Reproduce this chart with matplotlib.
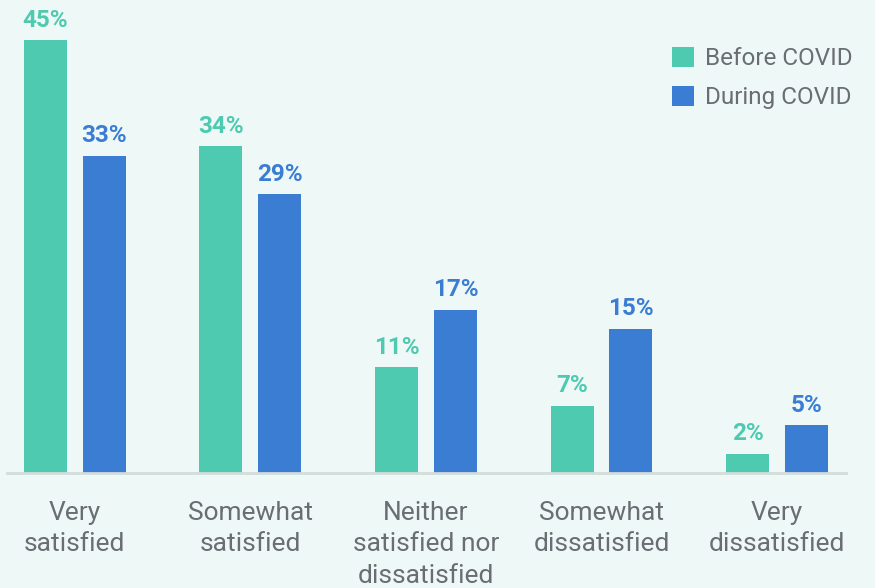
import matplotlib.pyplot as plt
import numpy as np

categories = ["Very\nsatisfied", "Somewhat\nsatisfied", "Neither\nsatisfied nor\ndissatisfied",
              "Somewhat\ndissatisfied", "Very\ndissatisfied"]
before = [45, 34, 11, 7, 2]
during = [33, 29, 17, 15, 5]
series_names = ["Before COVID", "During COVID"]

green = '#4ECAB0'
blue = '#3B7DD3'
bg = '#EEF9F7'
gray = '#6A6E72'

plt.rcParams['font.family'] = ['Roboto', 'DejaVu Sans']

fig = plt.figure(figsize=(8.75, 5.88), dpi=100, facecolor=bg)
ax = fig.add_axes([7 / 875, 1 - 473 / 588, 839 / 875, 473 / 588])
ax.set_facecolor(bg)

x = np.arange(len(categories))
width = 0.245
off = 0.168
b1 = ax.bar(x - off, before, width, color=green, label=series_names[0])
b2 = ax.bar(x + off, during, width, color=blue, label=series_names[1])

for bars, col in ((b1, green), (b2, blue)):
    for r in bars:
        ax.annotate("%d%%" % r.get_height(), (r.get_x() + r.get_width() / 2, r.get_height()),
                    xytext=(0, 6), textcoords='offset points', ha='center', va='bottom',
                    fontsize=17.5, fontweight='bold', color=col)

ax.set_xlim(-0.387, 4.393)
ax.set_ylim(0, 49.2)
ax.set_yticks([])
ax.set_xticks(x)
ax.set_xticklabels(categories, fontsize=19, color=gray, linespacing=1.4)
ax.tick_params(axis='x', length=0, pad=20)
for s in ['top', 'right', 'left']:
    ax.spines[s].set_visible(False)
ax.spines['bottom'].set_color('#D3DCDA')
ax.spines['bottom'].set_linewidth(2)

leg = ax.legend(loc='upper left', bbox_to_anchor=(672 / 875, 1 - 47 / 588),
                bbox_transform=fig.transFigure, frameon=False, fontsize=17.5,
                handlelength=0.9, handleheight=0.9, handletextpad=0.45,
                labelspacing=0.62, borderpad=0, borderaxespad=0)
for t in leg.get_texts():
    t.set_color(gray)

fig.savefig('out.png', dpi=100, facecolor=bg)
